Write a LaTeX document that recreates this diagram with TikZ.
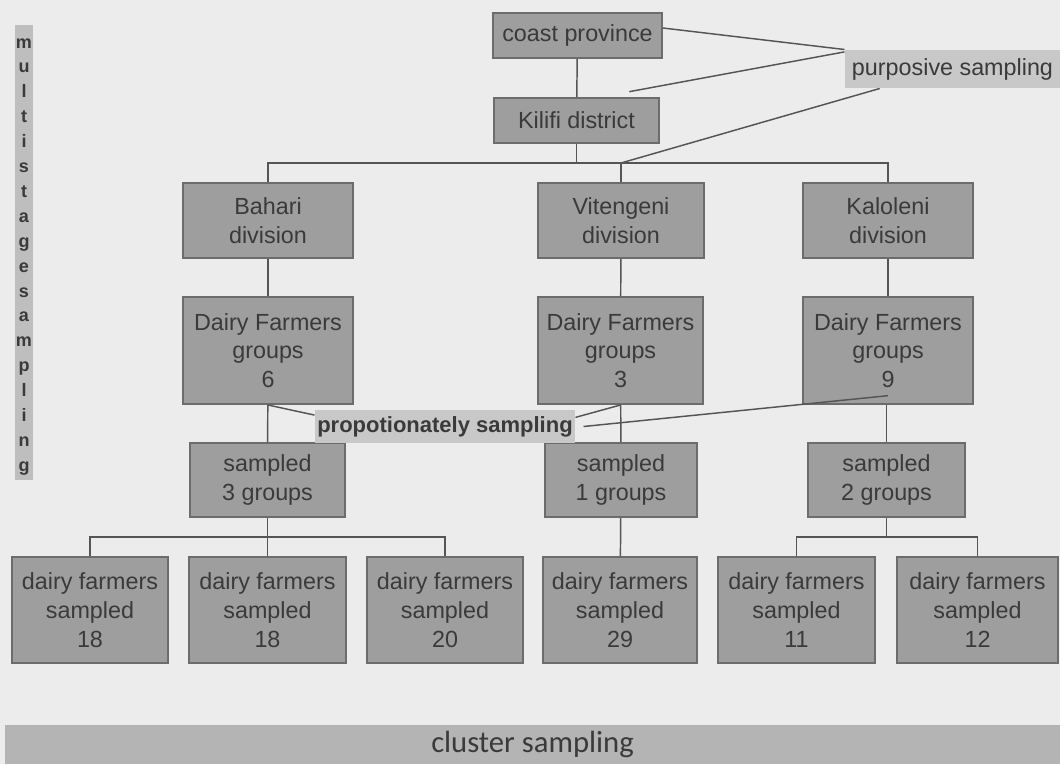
\documentclass[tikz,border=0pt]{standalone}
\usepackage{fontspec}
\setmainfont{Liberation Sans}
\newfontfamily\clusterfont{Carlito}

\definecolor{boxgray}{RGB}{158,158,158}
\definecolor{edgegray}{RGB}{108,108,108}
\definecolor{txtgray}{RGB}{58,58,58}
\definecolor{lblgray}{RGB}{200,200,200}
\definecolor{bggray}{RGB}{236,236,236}
\definecolor{bargray}{RGB}{180,180,180}
\definecolor{linegray}{RGB}{85,85,85}

\tikzset{every picture/.style={line width=0.75pt}}
\tikzset{
  blk/.style={draw=edgegray, line width=1.5pt, fill=boxgray, text=txtgray, align=center, inner sep=0pt, font=\fontsize{17.5}{21.5}\selectfont},
  lbl/.style={fill=lblgray, text=txtgray, inner sep=0pt, font=\fontsize{17.5}{21.5}\selectfont},
  conn/.style={draw=linegray, line width=1.1pt},
  vtxt/.style={anchor=base, text=txtgray, inner sep=0pt, font=\fontsize{13.5}{15}\selectfont\bfseries},
}

\begin{document}
\begin{tikzpicture}[x=0.75pt,y=0.75pt,yscale=-1,xscale=1]
		\useasboundingbox (0,0) rectangle (1060,764);
		\fill [bggray] (0,0) rectangle (1060,764);

		%Shape: Bar [left]
		\node [fill=lblgray!95!black, minimum width=18*0.75pt, minimum height=455*0.75pt, inner sep=0pt] (vbar) at (24,252.5) {};
		\foreach \ch [count=\i from 0] in {m,u,l,t,i,s,t,a,g,e,s,a,m,p,l,i,n,g}
			\node [vtxt] (v\i) at (24,48+24.9*\i) {\ch};

		% Text Node
		\node [blk, minimum width=169*0.75pt, minimum height=45*0.75pt] (coast) at (577.5,35.5) {coast province};
		% Text Node
		\node [blk, minimum width=165*0.75pt, minimum height=45*0.75pt] (kilifi) at (576.5,120.5) {Kilifi district};
		% Text Node
		\node [lbl, minimum width=215*0.75pt, minimum height=38*0.75pt] (purp) at (952.5,69) {purposive sampling};

		% Text Node
		\node [blk, minimum width=170*0.75pt, minimum height=75*0.75pt] (bahari) at (268,220.5) {Bahari\\division};
		% Text Node
		\node [blk, minimum width=166*0.75pt, minimum height=75*0.75pt] (viteng) at (621,220.5) {Vitengeni\\division};
		% Text Node
		\node [blk, minimum width=170*0.75pt, minimum height=75*0.75pt] (kalol) at (888,220.5) {Kaloleni\\division};

		% Text Node
		\node [blk, minimum width=170*0.75pt, minimum height=107*0.75pt] (grpa) at (268,350.5) {Dairy Farmers\\groups\\6};
		% Text Node
		\node [blk, minimum width=165*0.75pt, minimum height=107*0.75pt] (grpb) at (620.5,350.5) {Dairy Farmers\\groups\\3};
		% Text Node
		\node [blk, minimum width=170*0.75pt, minimum height=107*0.75pt] (grpc) at (888,350.5) {Dairy Farmers\\groups\\9};

		% Text Node
		\node [blk, minimum width=155*0.75pt, minimum height=74*0.75pt] (sama) at (267.5,480) {sampled\\3 groups};
		% Text Node
		\node [blk, minimum width=152*0.75pt, minimum height=74*0.75pt] (samb) at (621,480) {sampled\\1 groups};
		% Text Node
		\node [blk, minimum width=157*0.75pt, minimum height=74*0.75pt] (samc) at (886.5,480) {sampled\\2 groups};

		% Text Node
		\node [lbl, minimum width=260*0.75pt, minimum height=33*0.75pt, font=\fontsize{16.5}{20}\selectfont\bfseries] (prop) at (445,426.5) {propotionately sampling};

		% Text Node
		\node [blk, minimum width=156*0.75pt, minimum height=106*0.75pt] (fa) at (90,610) {dairy farmers\\sampled\\18};
		% Text Node
		\node [blk, minimum width=157*0.75pt, minimum height=106*0.75pt] (fb) at (267.5,610) {dairy farmers\\sampled\\18};
		% Text Node
		\node [blk, minimum width=156*0.75pt, minimum height=106*0.75pt] (fc) at (445,610) {dairy farmers\\sampled\\20};
		% Text Node
		\node [blk, minimum width=154*0.75pt, minimum height=106*0.75pt] (fd) at (620,610) {dairy farmers\\sampled\\29};
		% Text Node
		\node [blk, minimum width=157*0.75pt, minimum height=106*0.75pt] (fe) at (796.5,610) {dairy farmers\\sampled\\11};
		% Text Node
		\node [blk, minimum width=161*0.75pt, minimum height=106*0.75pt] (ff) at (977.5,610) {dairy farmers\\sampled\\12};

		%Shape: Bar [bottom]
		\node [fill=bargray, text=txtgray, minimum width=1055*0.75pt, minimum height=39*0.75pt, inner sep=0pt, font=\clusterfont\fontsize{23}{27}\selectfont] (clus) at (532.5,744.5) {\raisebox{-2pt}{cluster sampling}};

		\coordinate (busa) at (0,163);
		\coordinate (busb) at (0,537);

		%Straight Lines
		\draw [conn] (coast) -- (kilifi);
		\draw [conn] (kilifi.south) -- (kilifi.south |- busa);
		\draw [conn] (bahari.north) -- (bahari.north |- busa) -| (kalol.north);
		\draw [conn] (viteng.north) -- (viteng.north |- busa);
		\draw [conn] (coast.5) -- (purp.north west);
		\draw [conn] ([yshift=-4pt]kilifi.24) -- (purp.171);
		\draw [conn] (viteng.north |- busa) -- (purp.195);

		%Straight Lines
		\draw [conn] (bahari) -- (grpa);
		\draw [conn] (viteng) -- (grpb);
		\draw [conn] (kalol) -- (grpc);
		\draw [conn] (grpa) -- (sama);
		\draw [conn] (grpb) -- (samb);
		\draw [conn] (samc.north) -- (samc.north |- grpc.south);
		\draw [conn] (grpa.south) -- (prop.175);
		\draw [conn] (prop.4) -- (grpb.south);
		\draw [conn] ([xshift=6pt]prop.east) -- ([yshift=-7pt]grpc.south);

		%Straight Lines
		\draw [conn] (sama.south) -- (sama.south |- busb);
		\draw [conn] (fa.north) -- (fa.north |- busb) -| (fc.north);
		\draw [conn] (fb.north) -- (fb.north |- busb);
		\draw [conn] (samb) -- (fd);
		\draw [conn] (samc.south) -- (samc.south |- busb);
		\draw [conn] (fe.north) -- (fe.north |- busb) -| (ff.north);

\end{tikzpicture}
\end{document}
